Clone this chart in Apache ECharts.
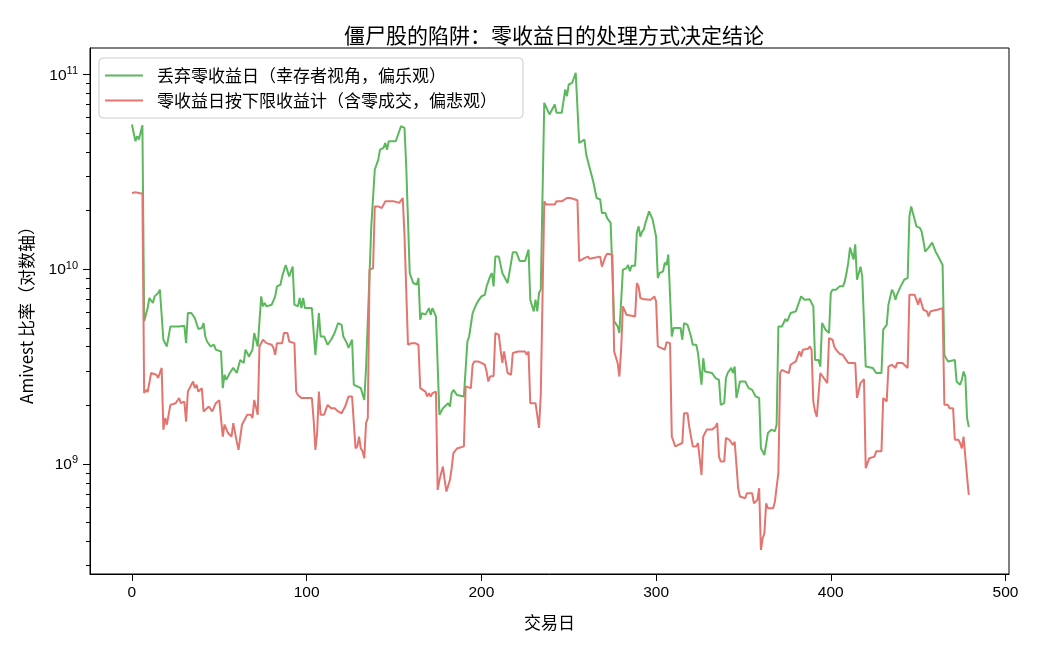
<!DOCTYPE html>
<html>
<head>
<meta charset="utf-8">
<script src="https://cdn.jsdelivr.net/npm/echarts@6/dist/echarts.min.js"></script>
<style>html,body{margin:0;padding:0;background:#fff;}#c{width:1040px;height:650px;}</style>
</head>
<body>
<div id="c"></div>
<script>
// Values: [trading day, Amivest ratio in units of 1e9]
const titleText = '僵尸股的陷阱：零收益日的处理方式决定结论';
const seriesNames = ['丢弃零收益日（幸存者视角，偏乐观）', '零收益日按下限收益计（含零成交，偏悲观）'];
const xTickValues = [0, 100, 200, 300, 400, 500];
const yMajorTicks = [1e9, 1e10, 1e11];
const yMinorTicks = [3e8,4e8,5e8,6e8,7e8,8e8,9e8,2e9,3e9,4e9,5e9,6e9,7e9,8e9,9e9,2e10,3e10,4e10,5e10,6e10,7e10,8e10,9e10];

const optimistic = [[0,55.3],[2,45.4],[3,48.2],[4,46.3],[6,54.9],[7,5.4],[9,6.31],[10,7.11],[12,6.7],[13,7.25],[15,7.54],[16,7.85],[17,7.69],[18,4.34],[19,4.25],[20,4.01],[22,5.08],[27,5.08],[28,5.18],[30,5.12],[31,4.17],[32,5.95],[34,5.95],[36,5.61],[38,4.93],[40,4.99],[41,5.29],[42,4.51],[43,4.25],[45,4.01],[47,4.09],[48,3.86],[51,3.78],[52,2.45],[53,2.87],[54,2.7],[56,2.93],[58,3.11],[60,2.93],[61,2.93],[62,3.42],[64,3.3],[65,3.86],[67,3.56],[68,3.71],[69,3.86],[70,4.7],[72,4.01],[74,7.25],[75,6.44],[76,6.7],[77,6.44],[80,6.57],[82,7.25],[83,8.16],[85,8.32],[86,9.18],[88,10.5],[89,10.5],[90,9.18],[92,10.3],[93,6.57],[95,6.44],[96,7.11],[97,6.31],[98,7.11],[99,6.31],[103,6.31],[105,3.63],[107,5.95],[108,4.51],[110,4.51],[112,4.09],[114,4.34],[116,4.7],[118,5.29],[120,5.18],[121,4.51],[123,4.17],[124,3.94],[126,4.34],[127,2.55],[131,2.45],[132,2.4],[133,2.13],[134,3.11],[135,3.04],[137,16.6],[139,32.5],[140,33.1],[141,36.5],[142,41.1],[144,42.0],[145,44.5],[146,41.1],[147,45.4],[151,45.4],[153,51.1],[154,54.2],[156,53.2],[157,33.8],[159,9.55],[161,8.49],[163,8.32],[164,9.01],[165,5.5],[166,5.95],[168,5.84],[170,6.31],[171,5.84],[172,6.31],[174,5.72],[175,5.72],[176,1.79],[178,1.93],[179,1.93],[181,2.05],[182,1.97],[183,2.31],[184,2.4],[186,2.26],[190,2.22],[192,4.25],[193,4.51],[195,5.95],[196,6.07],[197,6.57],[198,6.83],[200,7.25],[202,7.39],[203,8.16],[204,8.65],[205,9.18],[206,9.55],[207,8.16],[208,11.6],[210,11.6],[212,9.55],[213,9.55],[215,8.49],[216,9.55],[217,9.75],[218,12.2],[220,12.2],[222,11.0],[225,11.0],[227,12.6],[228,6.97],[230,6.07],[231,6.97],[232,6.07],[233,7.54],[234,7.85],[236,71.5],[237,70.1],[239,62.3],[240,62.3],[242,70.1],[243,63.5],[246,63.5],[248,83.7],[249,77.3],[250,88.8],[252,90.6],[254,102],[255,103],[256,44.5],[257,44.5],[259,46.3],[260,38.8],[261,38.0],[262,33.1],[263,32.5],[264,28.3],[265,27.7],[266,23.2],[268,22.8],[269,19.4],[270,19.1],[271,19.4],[272,18.3],[274,17.3],[275,16.9],[276,5.39],[277,5.29],[278,5.08],[279,4.7],[281,9.94],[282,9.94],[283,10.1],[284,10.5],[285,9.75],[286,10.4],[288,10.4],[289,15.4],[290,16.6],[291,14.7],[292,15.6],[293,16.0],[294,17.4],[295,17.6],[296,19.8],[297,19.8],[298,18.0],[299,16.3],[300,14.7],[301,9.01],[302,9.55],[304,9.75],[305,10.8],[306,10.5],[307,11.9],[308,11.9],[309,4.51],[310,4.99],[314,4.99],[315,4.34],[316,5.29],[318,5.18],[320,4.51],[321,4.09],[323,4.09],[324,3.71],[325,3.63],[326,2.55],[327,3.49],[328,2.98],[332,2.93],[334,2.76],[336,2.7],[337,2.01],[339,2.05],[340,2.76],[341,2.93],[342,2.93],[343,3.11],[344,2.93],[345,3.16],[346,2.18],[347,2.4],[348,2.65],[351,2.65],[353,2.45],[355,2.4],[356,2.45],[357,2.22],[359,2.18],[360,1.2],[361,1.16],[362,1.11],[363,1.11],[364,1.44],[366,1.5],[368,1.47],[369,1.59],[370,5.08],[372,5.08],[373,5.29],[374,5.55],[375,5.39],[376,5.5],[377,5.95],[378,5.95],[380,6.07],[381,6.19],[382,6.83],[383,7.25],[385,6.97],[388,7.0],[389,6.7],[390,6.44],[391,3.42],[392,3.36],[393,3.42],[394,3.16],[395,5.29],[396,5.18],[397,4.89],[399,4.7],[400,7.54],[401,7.85],[403,7.85],[404,7.8],[405,8.16],[407,8.16],[408,8.65],[409,9.55],[410,10.8],[411,12.9],[412,12.9],[413,11.2],[414,13.4],[415,8.83],[416,8.83],[417,10.3],[418,9.18],[419,9.18],[420,3.16],[424,3.11],[426,2.93],[429,2.93],[430,4.89],[431,4.99],[432,5.18],[433,6.57],[435,7.85],[436,7.54],[437,6.97],[438,7.45],[440,8.16],[441,8.16],[442,8.83],[444,9.01],[445,18.7],[446,21.0],[447,21.0],[448,18.0],[449,16.6],[451,16.3],[452,15.6],[453,14.0],[454,12.3],[455,12.1],[456,12.9],[458,13.7],[459,13.4],[460,12.3],[461,12.2],[462,11.4],[463,11.2],[464,10.5],[465,3.63],[466,3.56],[467,3.36],[471,3.42],[472,2.65],[473,2.6],[474,2.55],[475,2.7],[476,2.98],[477,2.81],[478,1.72],[479,1.55]];

const pessimistic = [[0,24.6],[2,24.8],[4,24.6],[6,24.4],[7,2.31],[8,2.4],[9,2.34],[11,2.93],[12,2.98],[14,2.87],[15,2.76],[17,3.11],[18,1.5],[19,1.72],[20,1.59],[22,2.01],[25,2.05],[27,2.18],[28,2.05],[30,2.09],[31,1.65],[32,2.35],[33,2.4],[35,2.65],[36,2.45],[37,2.55],[38,2.35],[40,2.45],[41,1.86],[44,1.97],[45,2.01],[46,1.86],[48,2.05],[50,2.12],[52,1.38],[53,1.59],[55,1.44],[56,1.44],[57,1.38],[58,1.62],[60,1.3],[61,1.18],[62,1.2],[63,1.59],[65,1.72],[66,1.79],[68,1.79],[69,1.72],[70,2.13],[71,2.09],[72,1.79],[73,4.01],[75,4.34],[76,4.25],[77,4.17],[80,4.09],[81,3.94],[82,3.63],[83,4.17],[86,4.17],[87,4.7],[89,4.7],[90,4.25],[93,4.17],[94,2.35],[95,2.26],[97,2.18],[98,2.22],[99,2.18],[103,2.18],[104,1.68],[105,1.18],[106,1.44],[107,2.35],[108,1.79],[110,1.79],[111,1.75],[112,2.01],[114,1.93],[116,1.93],[118,1.86],[120,1.82],[122,1.97],[124,2.22],[125,2.18],[126,2.22],[127,1.62],[128,1.2],[129,1.23],[130,1.38],[131,1.2],[132,1.16],[133,1.07],[134,1.62],[135,1.72],[136,9.94],[138,10.1],[139,21.0],[141,21.0],[143,20.6],[145,22.3],[150,22.3],[153,21.9],[154,21.9],[155,23.2],[156,15.0],[157,14.7],[158,4.09],[160,4.17],[162,4.17],[164,4.09],[165,2.45],[166,2.4],[168,2.35],[169,2.22],[170,2.31],[171,2.22],[172,2.31],[174,2.35],[175,0.735],[176,0.827],[178,0.969],[179,0.827],[180,0.721],[182,0.827],[183,0.95],[184,1.135],[186,1.2],[190,1.23],[191,2.5],[194,2.45],[195,3.23],[196,3.36],[197,3.3],[198,3.36],[200,3.3],[202,3.23],[203,2.98],[204,2.65],[205,2.81],[207,2.83],[208,4.7],[210,4.6],[211,3.86],[212,3.3],[213,3.78],[214,3.78],[215,2.93],[217,2.87],[218,3.71],[221,3.78],[225,3.78],[226,3.63],[227,3.78],[228,2.05],[229,2.09],[231,2.05],[233,1.53],[234,2.26],[235,2.26],[236,22.3],[237,21.5],[242,21.5],[243,22.3],[246,22.3],[247,21.9],[249,23.2],[251,23.2],[252,23.5],[255,22.6],[256,11.0],[257,11.0],[259,11.4],[261,11.6],[262,11.3],[264,11.4],[268,11.6],[269,10.3],[270,10.5],[271,11.6],[272,12.0],[275,11.9],[276,3.78],[277,3.71],[278,3.3],[279,2.81],[280,3.86],[281,6.44],[282,6.5],[283,5.84],[284,5.84],[288,5.72],[289,8.49],[290,8.16],[291,7.11],[293,7.0],[297,6.97],[299,7.25],[300,6.83],[301,4.01],[302,3.94],[305,3.86],[306,4.21],[308,4.17],[309,1.38],[310,1.35],[311,1.23],[315,1.28],[316,1.82],[318,1.82],[319,1.55],[320,1.38],[321,1.23],[323,1.23],[324,1.28],[325,1.28],[326,0.878],[327,1.38],[328,1.44],[329,1.5],[332,1.5],[334,1.55],[335,1.62],[336,1.09],[337,1.03],[339,1.03],[340,1.36],[342,1.33],[343,1.3],[344,1.25],[345,1.3],[346,1.28],[347,0.75],[348,0.68],[351,0.666],[352,0.707],[355,0.707],[356,0.628],[358,0.653],[359,0.75],[360,0.361],[361,0.415],[362,0.44],[363,0.628],[364,0.592],[367,0.592],[368,0.64],[369,0.653],[370,0.9],[371,2.93],[372,3.04],[374,2.98],[375,2.93],[376,2.93],[377,3.23],[378,3.3],[380,3.36],[381,3.42],[382,3.78],[383,3.56],[384,3.86],[387,3.9],[388,4.01],[389,3.86],[390,2.09],[391,1.86],[392,1.75],[393,1.75],[394,2.93],[395,2.93],[396,2.76],[397,2.7],[398,2.6],[399,4.43],[401,4.34],[402,4.01],[403,3.86],[405,3.68],[407,3.63],[408,3.49],[410,3.3],[414,3.3],[415,2.18],[416,2.18],[417,2.6],[419,2.72],[420,0.95],[421,0.94],[422,1.07],[425,1.09],[426,1.16],[429,1.16],[430,2.18],[431,2.18],[432,2.09],[433,3.16],[435,3.23],[436,3.3],[437,3.11],[438,3.3],[441,3.3],[442,3.23],[444,3.11],[445,7.39],[448,7.39],[449,7.54],[450,6.57],[451,7.11],[452,7.11],[453,6.19],[455,6.07],[456,5.72],[457,6.07],[459,6.14],[461,6.19],[464,6.31],[465,2.01],[467,2.01],[468,1.93],[470,1.93],[471,1.33],[473,1.33],[474,1.28],[475,1.2],[476,1.38],[477,1.41],[478,0.86],[479,0.693]];

const UNIT = 1e9;
const toData = arr => arr.map(p => [p[0], p[1] * UNIT]);

const CJK = 'Noto Sans CJK SC';
const LATIN = 'Liberation Sans';
const Y_MIN = 2.72e8, Y_MAX = 1.367e11;
const GREEN = 'rgb(92,184,92)', RED = 'rgb(227,116,112)';

const chart = echarts.init(document.getElementById('c'), null, {renderer: 'canvas'});
chart.setOption({
  animation: false,
  backgroundColor: '#ffffff',
  title: {
    text: titleText, left: 549, top: 20, textAlign: 'center',
    textStyle: {fontFamily: CJK, fontSize: 21, fontWeight: 'normal', color: '#000'}
  },
  legend: {
    data: seriesNames.map(n => ({name: n, icon: 'rect'})),
    left: 99, top: 58, orient: 'vertical',
    itemWidth: 38, itemHeight: 2, itemGap: 8,
    padding: [9, 26, 9, 6],
    borderColor: '#cccccc', borderWidth: 1, borderRadius: 4,
    backgroundColor: 'rgba(255,255,255,0.8)',
    textStyle: {fontFamily: CJK, fontSize: 17, lineHeight: 17, color: '#000', padding: [0, 0, 0, 9]}
  },
  grid: {left: 90, right: 31, top: 48, bottom: 76, show: true, borderColor: '#000', borderWidth: 1, backgroundColor: 'transparent'},
  xAxis: {
    type: 'value', min: -24, max: 502,
    name: '交易日', nameLocation: 'middle', nameGap: 40,
    nameTextStyle: {fontFamily: CJK, fontSize: 17, color: '#000'},
    axisLine: {show: true, onZero: false, lineStyle: {color: '#000', width: 1}},
    axisTick: {show: true, length: 7, customValues: xTickValues, lineStyle: {color: '#000', width: 1}},
    axisLabel: {customValues: xTickValues, fontFamily: LATIN, fontSize: 15.5, color: '#000', margin: 11},
    splitLine: {show: false}
  },
  yAxis: [{
    type: 'log', logBase: 10, min: Y_MIN, max: Y_MAX,
    name: 'Amivest 比率（对数轴）', nameLocation: 'middle', nameGap: 55, nameRotate: 90,
    nameTextStyle: {fontFamily: CJK, fontSize: 17, color: '#000'},
    axisLine: {show: true, onZero: false, lineStyle: {color: '#000', width: 1}},
    axisTick: {show: true, length: 7, customValues: yMajorTicks, lineStyle: {color: '#000', width: 1}},
    axisLabel: {
      customValues: yMajorTicks, margin: 12,
      formatter: v => '{b|10}{s|' + Math.round(Math.log10(v)) + '}',
      rich: {
        b: {fontFamily: LATIN, fontSize: 15.5, color: '#000', verticalAlign: 'bottom'},
        s: {fontFamily: LATIN, fontSize: 11, color: '#000', verticalAlign: 'bottom', padding: [0, 0, 7, 0]}
      }
    },
    splitLine: {show: false}, minorSplitLine: {show: false}
  }, {
    type: 'log', logBase: 10, min: Y_MIN, max: Y_MAX, position: 'left', offset: 0,
    axisLine: {show: false, onZero: false},
    axisTick: {show: true, length: 4, customValues: yMinorTicks, lineStyle: {color: '#000', width: 1}},
    axisLabel: {show: false},
    splitLine: {show: false}
  }],
  series: [{
    name: seriesNames[0], type: 'line', yAxisIndex: 0, data: toData(optimistic),
    symbol: 'none', lineStyle: {color: GREEN, width: 2}, itemStyle: {color: GREEN}
  }, {
    name: seriesNames[1], type: 'line', yAxisIndex: 0, data: toData(pessimistic),
    symbol: 'none', lineStyle: {color: RED, width: 2}, itemStyle: {color: RED}
  }]
});
</script>
</body>
</html>
